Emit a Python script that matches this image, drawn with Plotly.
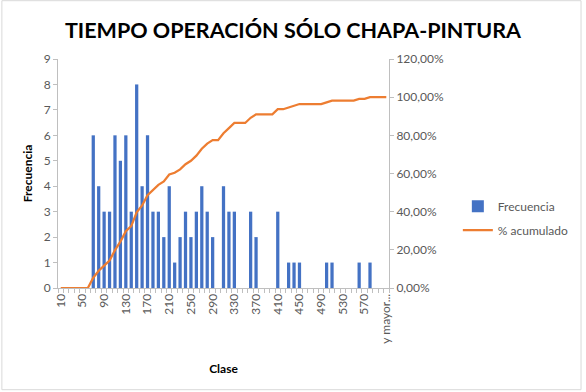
import plotly.graph_objects as go

clases = [str(v) for v in range(10, 610, 10)] + ["y mayor..."]

frecuencia = [0, 0, 0, 0, 0, 0, 6, 4, 3, 3,
              6, 5, 6, 3, 8, 4, 6, 3, 3, 2,
              4, 1, 2, 3, 2, 3, 4, 3, 2, 0,
              4, 3, 3, 0, 0, 3, 2, 0, 0, 0,
              3, 0, 1, 1, 1, 0, 0, 0, 0, 1,
              1, 0, 0, 0, 0, 1, 0, 1, 0, 0,
              0]

acumulado = [0, 0, 0, 0, 0, 0, 5.41, 9.01, 11.71, 14.41,
             19.82, 24.32, 29.73, 32.43, 39.64, 43.24, 48.65, 51.35, 54.05, 55.86,
             59.46, 60.36, 62.16, 64.86, 66.67, 69.37, 72.97, 75.68, 77.48, 77.48,
             81.08, 83.78, 86.49, 86.49, 86.49, 89.19, 90.99, 90.99, 90.99, 90.99,
             93.69, 93.69, 94.59, 95.50, 96.40, 96.40, 96.40, 96.40, 96.40, 97.30,
             98.20, 98.20, 98.20, 98.20, 98.20, 99.10, 99.10, 100, 100, 100,
             100]

FONT = "Lato"
GRAY = "#595959"
AX = "#BFBFBF"

fig = go.Figure()
fig.add_trace(go.Bar(x=clases, y=frecuencia, name="Frecuencia", legendgroup="a",
                     marker=dict(color="#4472C4", line=dict(width=0))))
fig.add_trace(go.Scatter(x=clases, y=acumulado, name="% acumulado", yaxis="y2",
                         legendgroup="b", mode="lines",
                         line=dict(color="#ED7D31", width=2.25)))

ticktext = [c if i % 4 == 0 else "" for i, c in enumerate(clases)]

ml, mr, mt, mb = 57.5, 195.3, 59.3, 103.7
pw = 586 - ml - mr
ph = 392 - mt - mb

fig.update_layout(
    width=586, height=392,
    margin=dict(l=ml, r=mr, t=mt, b=mb, pad=0),
    paper_bgcolor="white", plot_bgcolor="white",
    separators=",.",
    bargap=0.4,
    font=dict(family=FONT, color=GRAY, size=12),
    title=dict(text="<b>TIEMPO OPERACIÓN SÓLO CHAPA-PINTURA</b>",
               x=293 / 586, xref="container", xanchor="center",
               y=1 - 30 / 392, yref="container", yanchor="middle",
               font=dict(family=FONT, size=21.5, color="black")),
    xaxis=dict(type="category", tickmode="array", tickvals=clases, ticktext=ticktext,
               tickangle=-90, tickson="boundaries", ticks="outside", ticklen=4,
               tickcolor=AX, showline=True, linecolor=AX, showgrid=False,
               tickfont=dict(size=12, color=GRAY),
               title=dict(text="<b>Clase</b>", font=dict(size=12, color="black"),
                          standoff=21)),
    yaxis=dict(range=[0, 9], dtick=1, ticks="outside", ticklen=4, tickcolor=AX,
               showline=True, linecolor=AX, showgrid=False, zeroline=False,
               tickfont=dict(size=12, color=GRAY),
               title=dict(text="<b>Frecuencia</b>", font=dict(size=12, color="black"),
                          standoff=8)),
    yaxis2=dict(range=[0, 120], dtick=20, overlaying="y", side="right",
                tickformat=".2f", ticksuffix="%", ticks="outside", ticklen=4,
                tickcolor=AX, showline=True, linecolor=AX, showgrid=False,
                zeroline=False, tickfont=dict(size=12, color=GRAY)),
    legend=dict(x=(460 - ml) / pw, y=(392 - mb - 192) / ph, xanchor="left", yanchor="top",
                font=dict(size=12, color=GRAY), bgcolor="rgba(0,0,0,0)",
                tracegroupgap=5),
    showlegend=True,
    shapes=[dict(type="rect", xref="paper", yref="paper",
                 x0=(1 - ml) / pw, x1=(584 - ml) / pw,
                 y0=(392 - mb - 390) / ph, y1=(392 - mb - 1) / ph,
                 line=dict(color="#D9D9D9", width=1), layer="below")],
)

fig.write_html("out.html", config={"displayModeBar": False},
               post_script="document.body.style.margin='0';document.body.style.padding='0';")
